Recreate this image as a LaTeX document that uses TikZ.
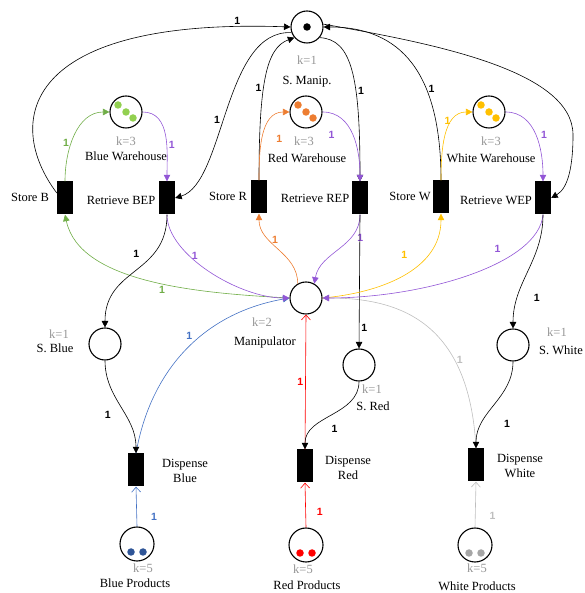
\documentclass[tikz,border=0pt]{standalone}
\usepackage{fontspec}
\setmainfont{Liberation Serif}
\newfontfamily\wfont{Liberation Sans}
\usetikzlibrary{arrows.meta}

\definecolor{pgreen}{RGB}{112,173,71}
\definecolor{tgreen}{RGB}{146,208,80}
\definecolor{ppurple}{RGB}{146,86,214}
\definecolor{porange}{RGB}{237,125,49}
\definecolor{pyellow}{RGB}{255,192,0}
\definecolor{pblue}{RGB}{68,114,196}
\definecolor{tblue}{RGB}{47,85,151}
\definecolor{pred}{RGB}{255,0,0}
\definecolor{pgray}{RGB}{190,190,190}
\definecolor{kgray}{RGB}{150,150,150}
\definecolor{tgray}{RGB}{166,166,166}

\tikzset{
  place/.style={shape=circle, draw=black, line width=1.1pt, minimum size=32pt, inner sep=0pt},
  trans/.style={shape=rectangle, fill=black, minimum width=16pt, minimum height=33pt, inner sep=0pt},
  tok/.style={shape=circle, fill=#1, minimum size=7.5pt, inner sep=0pt},
  pnarc/.style={-{Triangle[length=6.5pt,width=6.5pt]}, line width=0.6pt},
  openarc/.style={-{Straight Barb[length=5pt,width=9pt]}, line width=0.6pt},
  wt/.style={font=\wfont\bfseries\fontsize{10.5}{12}\selectfont, inner sep=2pt},
  kcap/.style={text=kgray},
}

\begin{document}
\begin{tikzpicture}[x=1pt, y=1pt, font=\fontsize{12.5}{15}\selectfont]
		\useasboundingbox (0,0) rectangle (584,593);
		
		% places
		\node[place] (smanip) at (307,566) {};
		\node[tok=black] (smaniptok) at (smanip) {};
		
		\node[place] (bwh) at (126,481) {};
		\node[place] (rwh) at (306,481) {};
		\node[place] (wwh) at (489,481) {};
		
		\node[tok=tgreen, xshift=-8pt, yshift=7pt] (bwht1) at (bwh) {};
		\node[tok=tgreen] (bwht2) at (bwh) {};
		\node[tok=tgreen, xshift=7pt, yshift=-6pt] (bwht3) at (bwh) {};
		\node[tok=porange, xshift=-8pt, yshift=7pt] (rwht1) at (rwh) {};
		\node[tok=porange] (rwht2) at (rwh) {};
		\node[tok=porange, xshift=7pt, yshift=-6pt] (rwht3) at (rwh) {};
		\node[tok=pyellow, xshift=-8pt, yshift=7pt] (wwht1) at (wwh) {};
		\node[tok=pyellow] (wwht2) at (wwh) {};
		\node[tok=pyellow, xshift=7pt, yshift=-6pt] (wwht3) at (wwh) {};
		
		\node[place] (manip) at (306,295) {};
		\node[place] (sblue) at (105,249) {};
		\node[place] (sred) at (359,228) {};
		\node[place] (swhite) at (513,248) {};
		
		\node[place, minimum size=34pt] (bprod) at (137,49) {};
		\node[place, minimum size=34pt] (rprod) at (306,48) {};
		\node[place, minimum size=34pt] (wprod) at (475,48) {};
		\node[tok=tblue, xshift=-6pt, yshift=-8pt] (bprodt1) at (bprod) {};
		\node[tok=tblue, xshift=6pt, yshift=-8pt] (bprodt2) at (bprod) {};
		\node[tok=pred, xshift=-6pt, yshift=-8pt] (rprodt1) at (rprod) {};
		\node[tok=pred, xshift=6pt, yshift=-8pt] (rprodt2) at (rprod) {};
		\node[tok=tgray, xshift=-6pt, yshift=-8pt] (wprodt1) at (wprod) {};
		\node[tok=tgray, xshift=6pt, yshift=-8pt] (wprodt2) at (wprod) {};
		
		% transitions
		\node[trans] (storeB) at (65,395) {};
		\node[trans] (retB) at (167,395) {};
		\node[trans] (storeR) at (259,396) {};
		\node[trans] (retR) at (360,395) {};
		\node[trans] (storeW) at (441,396) {};
		\node[trans] (retW) at (543,395) {};
		\node[trans] (dispB) at (136,123) {};
		\node[trans] (dispR) at (305,127) {};
		\node[trans] (dispW) at (476,128) {};
		
		% labels
		\node[kcap] (smanipk) at (307,533) {k=1};
		\node (smanipl) at (307,511) {S. Manip.};
		\node[kcap] (bwhk) at (126,452) {k=3};
		\node (bwhl) at (126,437) {Blue Warehouse};
		\node[kcap] (rwhk) at (304,452) {k=3};
		\node (rwhl) at (307,435) {Red Warehouse};
		\node[kcap] (wwhk) at (491,452) {k=3};
		\node (wwhl) at (491,435) {White Warehouse};
		\node (storeBl) at (30,396) {Store B};
		\node (retBl) at (121,393) {Retrieve BEP};
		\node (storeRl) at (228,397) {Store R};
		\node (retRl) at (315,395) {Retrieve REP};
		\node (storeWl) at (410,397) {Store W};
		\node (retWl) at (496,393) {Retrieve WEP};
		\node[kcap] (manipk) at (262,271) {k=2};
		\node (manipl) at (265,251) {Manipulator};
		\node[kcap] (sbluek) at (59,259) {k=1};
		\node (sbluel) at (55,245) {S. Blue};
		\node[kcap] (sredk) at (372,204) {k=1};
		\node (sredl) at (373,187) {S. Red};
		\node[kcap] (swhitek) at (557,261) {k=1};
		\node[anchor=east, inner sep=1pt] (swhitel) at (584,243) {S. White};
		\node[align=center] (dispBl) at (185,122) {Dispense\\Blue};
		\node[align=center] (dispRl) at (348,125) {Dispense\\Red};
		\node[align=center] (dispWl) at (520,127) {Dispense\\White};
		\node[kcap] (bprodk) at (143,25) {k=5};
		\node (bprodl) at (135,10) {Blue Products};
		\node[kcap] (rprodk) at (303,24) {k=5};
		\node (rprodl) at (307,8) {Red Products};
		\node[kcap] (wprodk) at (477,25) {k=5};
		\node (wprodl) at (477,7) {White Products};
		
		% S. Manip arcs
		\path [pnarc] ([yshift=5pt]storeB.west) edge[out=127, in=178, out distance=87pt, in distance=271pt] node[wt, pos=0.93, above] (wsb) {1} (smanip.west);
		\path [pnarc] (smanip.200) edge[out=177, in=17, out distance=68pt, in distance=52pt] node[wt, pos=0.55, left] (wrb) {1} (retB.east);
		\path [pnarc] (storeR.north) edge[out=90, in=200, out distance=97pt, in distance=30pt] node[wt, pos=0.42, left] (wsr) {1} (smanip.220);
		\path [pnarc] (smanip.320) edge[out=-3, in=90, out distance=32pt, in distance=105pt] node[wt, pos=0.63, right] (wrr) {1} (retR.north);
		\path [pnarc] (storeW.north) edge[out=90, in=0, out distance=108pt, in distance=77pt] node[wt, pos=0.35, right] (wsw) {1} (smanip.east);
		\coordinate (wbend) at (573,458);
		\draw [pnarc] (smanip.10) to[out=-10, in=90, out distance=110pt, in distance=65pt] (wbend) to[out=-90, in=30, out distance=30pt, in distance=20pt] (retW.east);
		
		% warehouse arcs
		\path [pnarc, pgreen] (storeB.north) edge[out=90, in=180] node[wt, pos=0.4, left] (wbs) {1} (bwh.west);
		\path [pnarc, ppurple] (bwh.east) edge[out=0, in=90] node[wt, pos=0.6, right] (wbr) {1} (retB.north);
		\path [pnarc, porange] (storeR.north) edge[out=90, in=180] node[wt, pos=0.45, right, xshift=12pt] (wrs) {1} (rwh.west);
		\path [pnarc, ppurple] (rwh.east) edge[out=0, in=90] node[wt, pos=0.5, left, xshift=-16pt] (wrr2) {1} (retR.north);
		\path [pnarc, pyellow] (storeW.north) edge[out=90, in=180] node[wt, pos=0.7, left] (wws) {1} (wwh.west);
		\path [pnarc, ppurple] (wwh.east) edge[out=0, in=90] node[wt, pos=0.5, right, xshift=3pt] (wwr) {1} (retW.north);
		
		% manipulator arcs
		\path [pnarc, pblue] (dispB.north) edge[out=80, in=190, out distance=86pt, in distance=86pt] node[wt, pos=0.55, above left] (wdb) {1} (manip.west);
		\path [pnarc, pgray] (dispW.north) edge[out=93, in=0, out distance=126pt, in distance=78pt] node[wt, pos=0.3, right] (wdw) {1} (manip.east);
		\path [openarc, pred] (dispR.north) edge node[wt, pos=0.5, left] (wdr) {1} (manip.south);
		\path [pnarc, pgreen] (manip.west) edge[out=177, in=-78, out distance=90pt, in distance=70pt] node[wt, pos=0.45, below] (wmb) {1} (storeB.south);
		\path [pnarc, ppurple] (retB.south) edge[out=-90, in=180, out distance=40pt, in distance=50pt] node[wt, pos=0.35, right] (wbm) {1} (manip.west);
		\path [pnarc] (retB.south) edge[out=-90, in=90, out distance=60pt, in distance=60pt] node[wt, pos=0.3, left, xshift=-12pt] (wbsb) {1} (sblue.north);
		\path [pnarc, porange] (manip.120) edge[out=90, in=-90] node[wt, pos=0.65, right] (wmr) {1} (storeR.south);
		\path [pnarc, ppurple] (retR.south) edge[out=-90, in=80] node[wt, pos=0.3, right, xshift=4pt] (wrm) {1} (manip.60);
		\path [pnarc] (retR.south) edge node[wt, pos=0.85, right] (wrsr) {1} (sred.north);
		\path [pnarc, pyellow] (manip.east) edge[out=5, in=-90] node[wt, pos=0.6, above left, xshift=-6pt, yshift=6pt] (wmw) {1} (storeW.south);
		\path [pnarc, ppurple] (retW.south) edge[out=-95, in=0, out distance=50pt, in distance=100pt] node[wt, pos=0.35, above left, yshift=5pt] (wwm) {1} (manip.east);
		\path [pnarc] (retW.south) edge[out=-90, in=90] node[wt, pos=0.75, right, xshift=14pt] (wwsw) {1} (swhite.north);
		
		% dispense arcs
		\path [pnarc] (sblue.south) edge[out=-90, in=90] node[wt, pos=0.6, left, xshift=-12pt] (wsbd) {1} (dispB.north);
		\path [pnarc] (sred.south) edge[out=-90, in=90] node[wt, pos=0.75, right, xshift=16pt] (wsrd) {1} (dispR.north);
		\path [pnarc] (swhite.south) edge[out=-90, in=90] node[wt, pos=0.75, right, xshift=20pt] (wswd) {1} (dispW.north);
		
		\path [openarc, pblue] (bprod.north) edge node[wt, pos=0.25, right, xshift=12pt] (wbp) {1} (dispB.south);
		\path [openarc, pred] (rprod.north) edge node[wt, pos=0.35, right, xshift=9pt] (wrp) {1} (dispR.south);
		\path [openarc, pgray] (wprod.north) edge node[wt, pos=0.25, right, xshift=12pt] (wwp) {1} (dispW.south);
		
\end{tikzpicture}
\end{document}
